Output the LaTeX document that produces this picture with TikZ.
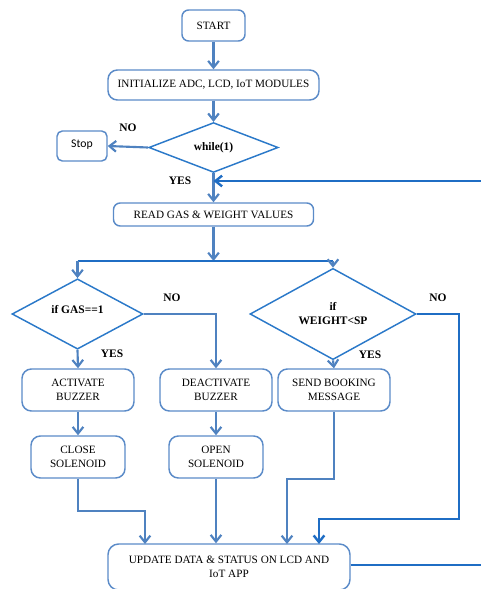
\documentclass[tikz,border=0pt]{standalone}
\usepackage{fontspec}
\setmainfont{Liberation Serif}
\newfontfamily\stopfont{Carlito}
\usetikzlibrary{shapes.geometric, arrows.meta, positioning, calc}
\definecolor{cajaAzul}{HTML}{5B8BC8}
\definecolor{flechaAzul}{HTML}{4F82C0}
\definecolor{lineaAzul}{HTML}{1F6DC4}
\definecolor{rombo}{HTML}{2B79C9}

\begin{document}
\begin{tikzpicture}[x=0.75pt, y=-0.75pt,
        proc/.style={draw=cajaAzul, line width=1.1pt, rounded corners=5pt, align=center,
            inner sep=0pt, font=\fontsize{8.4}{10.5}\selectfont},
        cond/.style={diamond, draw=rombo, line width=1.1pt, inner sep=0pt, align=center,
            font=\fontsize{8.6}{10.5}\selectfont\bfseries},
        flow/.style={-{Straight Barb[length=5pt, width=8pt]}, flechaAzul, line width=1.6pt},
        flowd/.style={lineaAzul, line width=1.8pt},
        lbl/.style={font=\fontsize{8.6}{10}\selectfont\bfseries, inner sep=0pt}
    ]
        \useasboundingbox (0,0) rectangle (480,589);

        \node[proc, minimum width=47.25pt, minimum height=23.25pt] (start) at (213.5,25.5) {START};
        \node[proc, rounded corners=7pt, minimum width=158.25pt, minimum height=22.5pt] (init) at (213.5,85) {INITIALIZE ADC, LCD, IoT MODULES};
        \node[cond, minimum width=97pt, minimum height=34pt] (loop) at (213.5,147.5) {while(1)};
        \node[proc, rounded corners=4pt, minimum width=37.5pt, minimum height=22.5pt, font=\stopfont\fontsize{8.8}{10}\selectfont] (stop) at (82,146) {Stop\\[-6pt]};
        \node[proc, minimum width=150pt, minimum height=17.25pt] (read) at (213.5,214.5) {READ GAS \& WEIGHT VALUES};

        \node[cond, minimum width=98.25pt, minimum height=46.5pt] (gas) at (77.5,314) {if GAS==1\\[-3pt]};
        \node[cond, minimum width=124.5pt, minimum height=46.5pt] (weight) at (333,314) {if\\WEIGHT<SP};

        \node[proc, rounded corners=7pt, minimum width=84pt, minimum height=31.5pt] (buzon) at (78,390) {ACTIVATE\\BUZZER};
        \node[proc, rounded corners=7pt, minimum width=84pt, minimum height=31.5pt] (buzoff) at (216,390) {DEACTIVATE\\BUZZER};
        \node[proc, rounded corners=7pt, minimum width=84pt, minimum height=31.5pt] (book) at (334,390) {SEND BOOKING\\MESSAGE};
        \node[proc, rounded corners=7pt, minimum width=70.5pt, minimum height=31.5pt] (close) at (78,457) {CLOSE\\SOLENOID};
        \node[proc, rounded corners=7pt, minimum width=70.5pt, minimum height=31.5pt] (open) at (216,457) {OPEN\\SOLENOID};
        \node[proc, rounded corners=8pt, minimum width=181.5pt, minimum height=34.5pt] (update) at (229,567) {UPDATE DATA \& STATUS ON LCD AND\\IoT APP};

        \coordinate (split) at (213.5,261);
        \coordinate (back) at (213.5,181);
        \coordinate (noright) at (459,519);

        \draw[flow] (start) -- (init);
        \draw[flow] (init) -- (loop);
        \draw[flow] (loop.west) -- (stop.east);
        \draw[flow] (loop.south) -- (read.north);
        \draw[flow] (read.south) -- (split);
        \draw[flowd] (gas.north |- split) -- (weight.north |- split);
        \draw[flow] (gas.north |- split) -- (gas.north);
        \draw[flow] (weight.north |- split) -- (weight.north);

        \draw[flow] (gas.south) -- (buzon.north);
        \draw[flow] (gas.east) -| (buzoff.north);
        \draw[flow] (weight.south) -- (book.north);
        \draw[flow] (buzon) -- (close);
        \draw[flow] (buzoff) -- (open);

        \draw[flow] (close.south) -- ++(0,32) -| (145,544);
        \draw[flow] (open.south) -- (open.south |- update.north);
        \draw[flow] (book.south) -- ++(0,67) -| (287,544);
        \draw[flowd, -{Straight Barb[length=5pt, width=8pt]}] (weight.east) -| (noright) -| (319,544);
        \draw[flowd, -{Straight Barb[length=5pt, width=8pt]}] (update.east |- 0,565) -- (500,565) |- (back);

        \node[lbl] (lno1) at (128,128) {NO};
        \node[lbl] (lyes1) at (180,181) {YES};
        \node[lbl] (lno2) at (172,298) {NO};
        \node[lbl] (lyes2) at (112,354) {YES};
        \node[lbl] (lno3) at (438,298) {NO};
        \node[lbl] (lyes3) at (370,355) {YES};
    \end{tikzpicture}
\end{document}
